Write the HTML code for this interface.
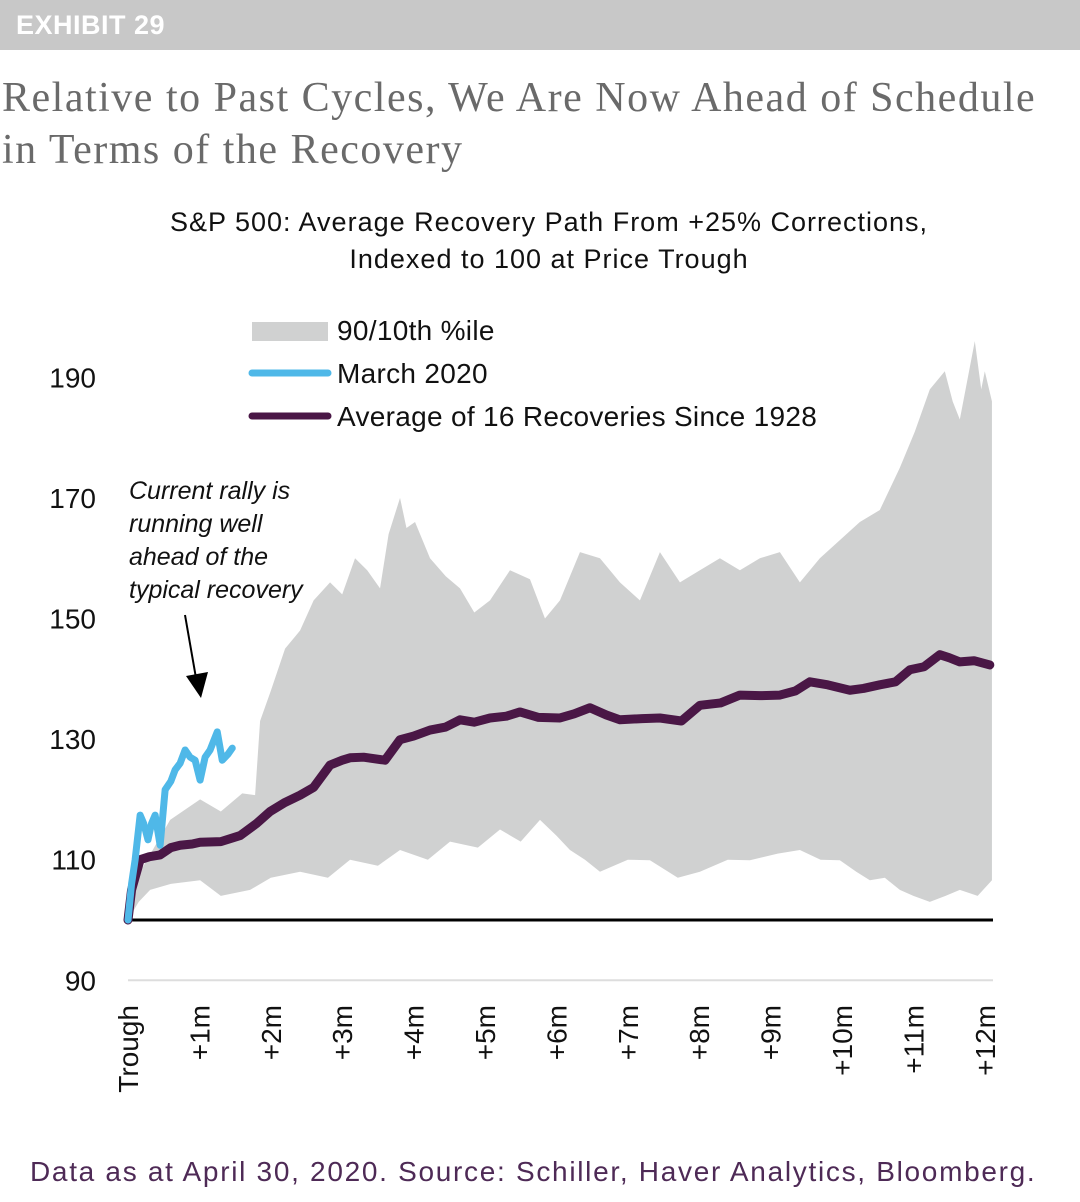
<!DOCTYPE html>
<html><head><meta charset="utf-8"><style>
body{margin:0;width:1080px;height:1202px;background:#fff;overflow:hidden;font-family:"Liberation Sans",sans-serif;}
#hdr{position:absolute;left:0;top:0;width:1080px;height:50px;background:#c8c8c8;}
#hdr span{position:absolute;left:16px;top:10px;color:#fff;font-weight:bold;font-size:27px;letter-spacing:0.5px;}
#title{position:absolute;left:2px;top:72px;font-family:"Liberation Serif",serif;color:#6a6a6a;font-size:42px;line-height:52px;letter-spacing:1.5px;}
#foot{position:absolute;left:30px;top:1156px;color:#4e2a56;font-size:28px;letter-spacing:1.7px;}
svg{position:absolute;left:0;top:0;}
</style></head><body>
<div id="hdr"><span>EXHIBIT 29</span></div>
<div id="title">Relative to Past Cycles, We Are Now Ahead of Schedule<br>in Terms of the Recovery</div>
<svg id="chart" width="1080" height="1202"></svg>
<div id="foot">Data as at April 30, 2020. Source: Schiller, Haver Analytics, Bloomberg.</div>
<script>
const yTicks=[90,110,130,150,170,190];
const xTickLabels=["Trough","+1m","+2m","+3m","+4m","+5m","+6m","+7m","+8m","+9m","+10m","+11m","+12m"];
const upperM=[0,.17,.59,1.01,1.3,1.6,1.78,1.85,2.0,2.2,2.41,2.6,2.83,3.0,3.18,3.35,3.53,3.65,3.81,3.9,4.02,4.23,4.45,4.65,4.85,5.07,5.35,5.63,5.84,6.05,6.33,6.61,6.89,7.17,7.45,7.73,8.01,8.29,8.57,8.85,9.13,9.41,9.69,9.97,10.25,10.53,10.81,11.02,11.23,11.44,11.55,11.65,11.86,11.95,12.0,12.1];
const upperV=[100,108,116.6,120,118,121,120.7,133,138,145,148,153,156,154,160,158,155,164,170,165,166,160,157,155,151,153,158,156.5,150,153,161,160,156,153,161,156,158,160,158,160,161,156,160,163,166,168,175,181,188,191,186,183,196,188,191,186];
const lowerM=[0,.15,.31,.6,1.01,1.3,1.71,2.0,2.41,2.8,3.11,3.5,3.81,4.2,4.51,4.9,5.21,5.5,5.77,6.0,6.19,6.4,6.61,7.0,7.31,7.7,8.01,8.4,8.71,9.1,9.41,9.7,9.97,10.2,10.39,10.6,10.81,11.0,11.23,11.45,11.65,11.9,12.1];
const lowerV=[100,103,105,106,106.6,104,105,107,108,107,110,109,111.6,110,113,112,115,113,116.6,114,111.6,110,108,110,109.9,107,108,110,109.9,111,111.6,110,109.9,108,106.6,107,105,104,103,104,105,104,106.6];
const avgM=[0,.05,.17,.3,.45,.6,.73,.9,1.01,1.3,1.57,1.8,1.99,2.2,2.41,2.6,2.83,3.0,3.11,3.3,3.6,3.81,4.0,4.23,4.45,4.65,4.85,5.07,5.3,5.49,5.75,6.05,6.25,6.47,6.7,6.89,7.2,7.45,7.75,8.01,8.3,8.57,8.85,9.13,9.35,9.55,9.8,10.11,10.3,10.53,10.75,10.95,11.15,11.37,11.5,11.65,11.85,12.07];
const avgV=[100,105,110,110.5,110.8,112,112.4,112.6,112.9,113,114,116,118,119.5,120.7,122,125.7,126.5,126.9,127,126.5,129.9,130.5,131.5,132,133.2,132.8,133.5,133.8,134.5,133.6,133.5,134.2,135.2,134,133.2,133.4,133.5,133,135.6,136,137.3,137.2,137.3,138,139.5,139,138.1,138.4,139,139.5,141.5,142,144,143.5,142.8,143,142.3];
const marM=[0,.05,.1,.17,.22,.28,.33,.38,.45,.52,.6,.66,.73,.8,.87,.94,1.01,1.08,1.15,1.25,1.32,1.4,1.46];
const marV=[100,106,110,117.4,116,113.3,116,117.4,112.4,121.6,123,124.9,126,128.2,127,126.5,123.2,127,128.2,131.2,126.5,127.5,128.5];
const X0=128,DX=71.4,Y0=920,DY=6.03;
const xs=m=>X0+m*DX, ys=v=>Y0-(v-100)*DY;
const svg=document.getElementById('chart'),NS="http://www.w3.org/2000/svg";
function mk(t,a,p){const e=document.createElementNS(NS,t);for(const k in a)e.setAttribute(k,a[k]);(p||svg).appendChild(e);return e;}
function txt(s,a){const e=mk('text',a);e.textContent=s;return e;}
let t;
t=txt("S&P 500: Average Recovery Path From +25% Corrections,",{x:549,y:231,'text-anchor':'middle','font-size':27,'letter-spacing':1,fill:'#111'});

t=txt("Indexed to 100 at Price Trough",{x:549,y:268,'text-anchor':'middle','font-size':27,'letter-spacing':1,fill:'#111'});

let d="M"+upperM.map((m,i)=>xs(m)+","+ys(upperV[i])).join("L");
for(let i=lowerM.length-1;i>=0;i--)d+="L"+xs(lowerM[i])+","+ys(lowerV[i]);
const band=mk('path',{d:d+"Z",fill:'#d0d1d1'});

const ax=mk('line',{x1:128,x2:993,y1:ys(90),y2:ys(90),stroke:'#ddd','stroke-width':2});

const bl=mk('line',{x1:128,x2:993,y1:ys(100),y2:ys(100),stroke:'#000','stroke-width':3});

yTicks.forEach(v=>{const e=txt(v,{x:96,y:ys(v)+10,'text-anchor':'end','font-size':28,fill:'#111'});
});
xTickLabels.forEach((s,i)=>{const x=xs(i)+10;const e=txt(s,{x:x,y:1005,transform:`rotate(-90 ${x} 1005)`,'text-anchor':'end','font-size':28,fill:'#111'});
});
const avg=mk('path',{d:"M"+avgM.map((m,i)=>xs(m)+","+ys(avgV[i])).join("L"),fill:'none',stroke:'#4a1746','stroke-width':9,'stroke-linejoin':'round','stroke-linecap':'round'});

const mar=mk('path',{d:"M"+marM.map((m,i)=>xs(m)+","+ys(marV[i])).join("L"),fill:'none',stroke:'#4fb8e8','stroke-width':7,'stroke-linejoin':'round','stroke-linecap':'round'});

const l1=mk('rect',{x:252,y:322,width:76,height:19,fill:'#d0d1d1'});

const l2=mk('line',{x1:252,x2:328,y1:373,y2:373,stroke:'#4fb8e8','stroke-width':7,'stroke-linecap':'round'});

const l3=mk('line',{x1:252,x2:328,y1:416,y2:416,stroke:'#4a1746','stroke-width':7,'stroke-linecap':'round'});

[["90/10th %ile",340],["March 2020",383],["Average of 16 Recoveries Since 1928",426]].forEach(([s,y])=>{
const e=txt(s,{x:337,y:y,'font-size':28,'letter-spacing':0.3,fill:'#111'});});
["Current rally is","running well","ahead of the","typical recovery"].forEach((s,i)=>{
const e=txt(s,{x:129,y:499+i*33,'font-size':25,'font-style':'italic',fill:'#111'});
});
const ar=mk('line',{x1:185,y1:615,x2:196,y2:678,stroke:'#000','stroke-width':2});

const ah=mk('polygon',{points:"186,676 208,672 201,698",fill:'#000'});

</script>
</body></html>
